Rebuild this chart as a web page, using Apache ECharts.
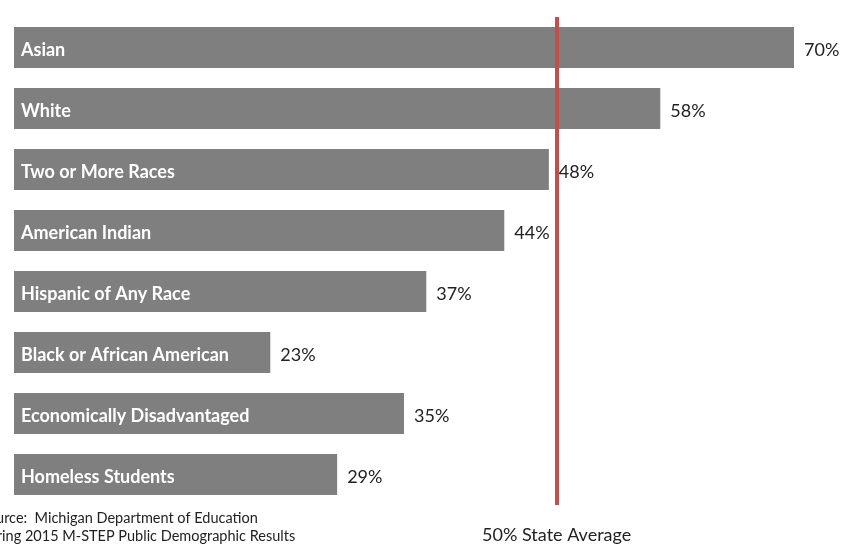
<!DOCTYPE html>
<html style="height: 100%">
<head>
 <meta charset="utf-8">
 <title>Proficiency by group</title>
</head>
<body style="height: 100%; margin: 0; background: #fff">
 <div id="container" style="width: 851px; height: 544px"></div>
 <script type="text/javascript" src="https://cdn.jsdelivr.net/npm/echarts@6/dist/echarts.min.js"></script>
 <script type="text/javascript">
    var categories = ['Asian', 'White', 'Two or More Races', 'American Indian',
        'Hispanic of Any Race', 'Black or African American',
        'Economically Disadvantaged', 'Homeless Students'];
    var values = [70, 58, 48, 44, 37, 23, 35, 29];
    // red reference line, placed where it sits on the picture
    var stateAvgPos = 48.7;
    var stateAvgLabel = '50% State Average';
    var sourceLines = ['Source:  Michigan Department of Education',
        'Spring 2015 M-STEP Public Demographic Results'];

    var dom = document.getElementById('container');
    var myChart = echarts.init(dom);
    var font = 'Lato, "Open Sans", sans-serif';

    myChart.setOption({
        animation: false,
        grid: { left: 14, right: 57, top: 17, bottom: 39 },
        xAxis: {
            type: 'value', min: 0, max: 70,
            show: false
        },
        yAxis: {
            type: 'category',
            data: categories,
            inverse: true,
            show: false
        },
        series: [
            {
                type: 'bar',
                data: values,
                barWidth: 41,
                itemStyle: { color: '#7f7f7f' },
                label: {
                    show: true,
                    position: 'right',
                    distance: 10,
                    offset: [0, 3],
                    formatter: '{c}%',
                    color: '#222',
                    fontFamily: font,
                    fontSize: 18
                },
                markLine: {
                    symbol: 'none',
                    silent: true,
                    lineStyle: { color: '#c0504d', width: 4, type: 'solid' },
                    label: {
                        position: 'end',
                        distance: 21,
                        formatter: stateAvgLabel,
                        color: '#222',
                        fontFamily: font,
                        fontSize: 18
                    },
                    data: [{ xAxis: stateAvgPos }]
                }
            },
            {
                type: 'bar',
                data: values,
                barWidth: 41,
                barGap: '-100%',
                itemStyle: { color: 'rgba(0,0,0,0)' },
                label: {
                    show: true,
                    position: 'insideLeft',
                    distance: 7,
                    offset: [0, 3],
                    formatter: '{b}',
                    color: '#fff',
                    fontWeight: 'bold',
                    fontFamily: font,
                    fontSize: 18
                }
            }
        ],
        graphic: [
            {
                type: 'text', left: -20, top: 511,
                style: { text: sourceLines[0], fill: '#222', font: '14.5px ' + font }
            },
            {
                type: 'text', left: -19, top: 529,
                style: { text: sourceLines[1], fill: '#222', font: '14.5px ' + font }
            }
        ]
    });
</script>
</body>
</html>
